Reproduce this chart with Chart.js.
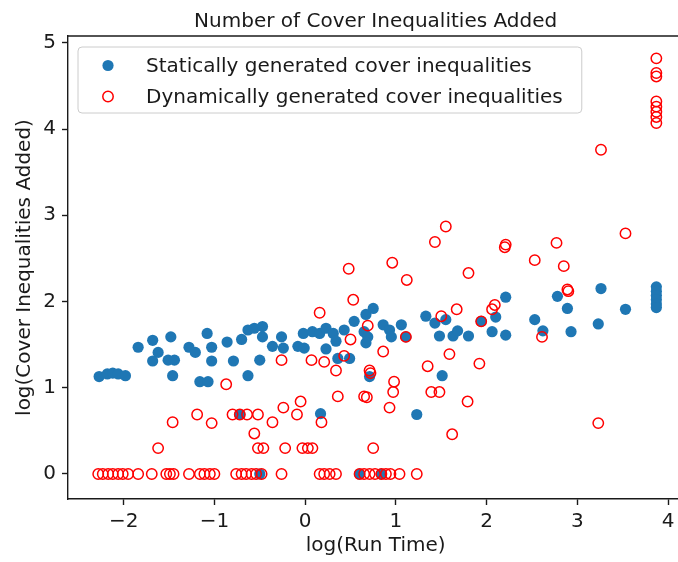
<!DOCTYPE html>
<html>
<head>
<meta charset="utf-8">
<script src="https://cdn.jsdelivr.net/npm/chart.js@4.4.1/dist/chart.umd.min.js"></script>
<style>
  html, body { margin: 0; padding: 0; background: #fff; overflow: hidden; }
  #wrap { width: 690px; height: 562px; }
</style>
</head>
<body>
<div id="wrap"><canvas id="chart" width="690" height="562"></canvas></div>
<script>
// log(run time) vs log(number of cover inequalities added)
const staticX = [
  -2.27, -2.18, -2.12, -2.06, -1.98, -1.84, -1.68, -1.62, -1.68, -1.48,
  -1.51, -1.44, -1.46, -1.28, -1.21, -1.08, -1.03, -1.03, -1.16, -1.07,
  -0.86, -0.79, -0.70, -0.63, -0.56, -0.47, -0.47, -0.50, -0.63, -0.36,
  -0.26, -0.24, -0.72, -0.50, -0.08, -0.01, -0.02, 0.08, 0.16, 0.23,
  0.23, 0.31, 0.34, 0.36, 0.43, 0.49, 0.54, 0.67, 0.75, 0.65,
  0.69, 0.67, 0.86, 0.93, 0.95, 1.06, 1.11, 1.33, 0.71, 0.17,
  0.60, 0.84, 1.23, 1.43, 1.55, 1.48, 1.63, 1.68, 1.80, 1.94,
  2.10, 2.06, 2.21, 2.21, 2.53, 2.62, 2.78, 2.89, 2.93, 3.26,
  3.23, 3.53, 3.87, 3.87, 3.87, 3.87, 3.87, 3.87, 1.51
];
const staticY = [
  1.13, 1.16, 1.17, 1.16, 1.14, 1.47, 1.55, 1.41, 1.31, 1.59,
  1.32, 1.32, 1.14, 1.47, 1.41, 1.63, 1.47, 1.31, 1.07, 1.07,
  1.53, 1.31, 1.56, 1.67, 1.69, 1.71, 1.59, 1.32, 1.14, 1.48,
  1.59, 1.46, 0.69, 0.00, 1.48, 1.46, 1.63, 1.65, 1.63, 1.69,
  1.45, 1.63, 1.54, 1.34, 1.67, 1.34, 1.77, 1.85, 1.92, 1.65,
  1.59, 1.52, 1.73, 1.67, 1.59, 1.73, 1.59, 1.83, 1.13, 0.70,
  0.00, 0.00, 0.69, 1.75, 1.79, 1.60, 1.60, 1.66, 1.60, 1.77,
  1.82, 1.65, 1.61, 2.05, 1.79, 1.66, 2.06, 1.92, 1.65, 2.15,
  1.74, 1.91, 2.17, 2.12, 2.07, 2.02, 1.97, 1.93, 1.14
];

const dynamicX = [
  // one inequality
  -2.28, -2.23, -2.17, -2.12, -2.06, -2.01, -1.95, -1.84, -1.69, -1.53,
  -1.49, -1.45, -1.28, -1.16, -1.11, -1.05, -1.00, -0.76, -0.70, -0.65,
  -0.59, -0.54, -0.48, -0.26, 0.16, 0.21, 0.27, 0.34, 0.60, 0.65,
  0.71, 0.77, 0.84, 0.89, 0.94, 1.04, 1.23,
  // two to nine
  -1.62, -0.52, -0.46, -0.22, -0.03, 0.03, 0.08, 0.75,
  -0.56, 1.62,
  -1.46, -1.03, -0.36, 0.18, 3.23,
  -1.19, -0.80, -0.72, -0.64, -0.52, -0.09,
  -0.24, 0.93,
  -0.05, 1.79,
  0.36, 0.65, 0.68,
  0.97, 1.39, 1.48,
  // ten and up
  -0.87, 0.98, 0.34, 0.71, 0.72, 0.21, 0.07, -0.26, 0.43, 0.86,
  0.50, 1.11, 0.69, 0.16, 0.53, 1.12, 0.48, 0.96, 1.80, 1.43,
  1.55, 1.35, 1.92, 1.59, 1.67, 1.50, 1.94, 2.06, 2.09, 2.21,
  2.20, 2.53, 2.77, 2.85, 2.89, 2.90, 2.61, 3.26, 3.53,
  3.87, 3.87, 3.87, 3.87, 3.87, 3.87, 3.87, 3.87
];
const dynamicY = [
  0, 0, 0, 0, 0, 0, 0, 0, 0, 0,
  0, 0, 0, 0, 0, 0, 0, 0, 0, 0,
  0, 0, 0, 0, 0, 0, 0, 0, 0, 0,
  0, 0, 0, 0, 0, 0, 0,
  0.30, 0.30, 0.30, 0.30, 0.30, 0.30, 0.30, 0.30,
  0.47, 0.46,
  0.60, 0.59, 0.60, 0.60, 0.59,
  0.69, 0.69, 0.69, 0.69, 0.69, 0.69,
  0.77, 0.77,
  0.84, 0.84,
  0.90, 0.90, 0.89,
  0.95, 0.95, 0.95,
  1.04, 1.07, 1.20, 1.20, 1.17, 1.30, 1.32, 1.32, 1.37, 1.42,
  1.56, 1.59, 1.72, 1.87, 2.02, 2.25, 2.38, 2.45, 2.33, 2.69,
  2.87, 1.25, 1.28, 1.39, 1.91, 1.83, 1.77, 1.91, 1.96, 2.66,
  2.63, 2.48, 2.68, 2.41, 2.14, 2.12, 1.59, 3.76, 2.79,
  4.82, 4.65, 4.61, 4.32, 4.26, 4.20, 4.14, 4.07
];

const xTicks = [-2, -1, 0, 1, 2, 3, 4];
const yTicks = [0, 1, 2, 3, 4, 5];

const chartTitle = 'Number of Cover Inequalities Added';
const ink = '#1a1a1a';
const font = { family: "'DejaVu Sans', sans-serif", size: 20 };

function toPoints(xs, ys) {
  return xs.map((x, i) => ({ x: x, y: ys[i] }));
}

function minusLabel(v) {
  return v < 0 ? '\u2212' + Math.abs(v) : String(v);
}

// title, top spine and the boxed legend in the upper left corner
const framePlugin = {
  id: 'frame',
  afterDatasetsDraw(chart) {
    const { ctx, chartArea: a } = chart;
    ctx.save();

    ctx.strokeStyle = ink;
    ctx.lineWidth = 1.4;
    ctx.beginPath();
    ctx.moveTo(a.left, a.top);
    ctx.lineTo(a.right, a.top);
    ctx.stroke();

    ctx.font = "20px 'DejaVu Sans', sans-serif";
    ctx.fillStyle = ink;
    ctx.textAlign = 'center';
    ctx.textBaseline = 'alphabetic';
    ctx.fillText(chartTitle, (a.left + a.right) / 2, 26.5);

    const sets = chart.data.datasets;
    ctx.textAlign = 'left';
    let textW = 0;
    sets.forEach(ds => { textW = Math.max(textW, ctx.measureText(ds.label).width); });

    const bx = a.left + 10, by = a.top + 11;
    const bw = 68 + textW + 19, bh = 66, r = 4;
    ctx.beginPath();
    ctx.moveTo(bx + r, by);
    ctx.arcTo(bx + bw, by, bx + bw, by + bh, r);
    ctx.arcTo(bx + bw, by + bh, bx, by + bh, r);
    ctx.arcTo(bx, by + bh, bx, by, r);
    ctx.arcTo(bx, by, bx + bw, by, r);
    ctx.closePath();
    ctx.fillStyle = 'rgba(255,255,255,0.8)';
    ctx.fill();
    ctx.strokeStyle = '#cccccc';
    ctx.lineWidth = 1;
    ctx.stroke();

    sets.forEach((ds, i) => {
      const cy = by + 18.5 + i * 31;
      ctx.beginPath();
      ctx.arc(bx + 30, cy, ds.pointRadius, 0, Math.PI * 2);
      if (ds.borderWidth > 0) {
        ctx.strokeStyle = ds.borderColor;
        ctx.lineWidth = ds.borderWidth;
        ctx.stroke();
      } else {
        ctx.fillStyle = ds.backgroundColor;
        ctx.fill();
      }
      ctx.fillStyle = ink;
      ctx.fillText(ds.label, bx + 68, cy + 6);
    });

    ctx.restore();
  }
};

const ctx = document.getElementById('chart').getContext('2d');
new Chart(ctx, {
  type: 'scatter',
  data: {
    datasets: [
      {
        label: 'Statically generated cover inequalities',
        data: toPoints(staticX, staticY),
        pointRadius: 5.6,
        backgroundColor: '#1f77b4',
        borderColor: '#1f77b4',
        borderWidth: 0,
        order: 1
      },
      {
        label: 'Dynamically generated cover inequalities',
        data: toPoints(dynamicX, dynamicY),
        pointRadius: 5.2,
        backgroundColor: 'rgba(0,0,0,0)',
        borderColor: '#ff0000',
        borderWidth: 1.5,
        order: 0
      }
    ]
  },
  options: {
    responsive: false,
    animation: false,
    devicePixelRatio: 1,
    layout: { padding: { top: 36, right: 6, left: 0, bottom: 0 } },
    plugins: {
      legend: { display: false },
      tooltip: { enabled: false },
      title: { display: false }
    },
    scales: {
      x: {
        type: 'linear',
        min: -2.613,
        max: 4.167,
        afterBuildTicks: s => { s.ticks = xTicks.map(v => ({ value: v })); },
        afterFit: s => { s.height = 63; },
        ticks: { font: font, color: ink, padding: 5, callback: minusLabel, maxRotation: 0, autoSkip: false },
        grid: { drawOnChartArea: false, drawTicks: true, tickLength: 6, tickWidth: 1.4, tickColor: ink },
        border: { display: true, color: ink, width: 1.4 },
        title: { display: true, text: 'log(Run Time)', font: font, color: ink, padding: { top: 0, bottom: 4 } }
      },
      y: {
        type: 'linear',
        min: -0.29,
        max: 5.079,
        afterBuildTicks: s => { s.ticks = yTicks.map(v => ({ value: v })); },
        afterFit: s => { s.width = 68; },
        ticks: { font: font, color: ink, padding: 6, callback: minusLabel, autoSkip: false },
        grid: { drawOnChartArea: false, drawTicks: true, tickLength: 6, tickWidth: 1.4, tickColor: ink },
        border: { display: true, color: ink, width: 1.4 },
        title: { display: true, text: 'log(Cover Inequalities Added)', font: font, color: ink, padding: { top: 13, bottom: 0 } }
      }
    }
  },
  plugins: [framePlugin]
});
</script>
</body>
</html>
